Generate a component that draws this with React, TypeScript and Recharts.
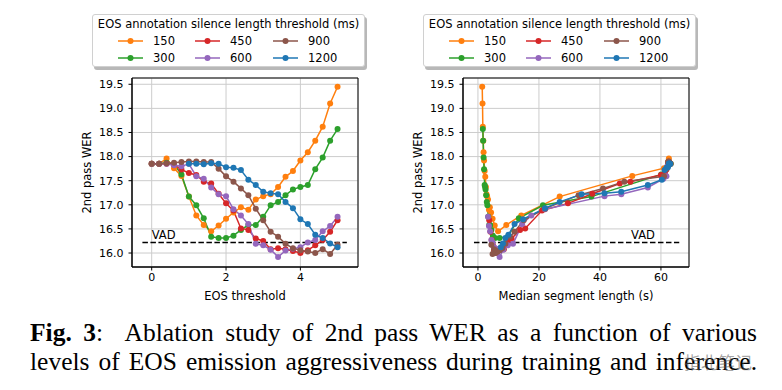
import React from 'react';
import {
  LineChart,
  Line,
  XAxis,
  YAxis,
  CartesianGrid,
  ReferenceLine,
  ReferenceDot,
  ReferenceArea,
  Label,
} from 'recharts';

// ---------------- data ----------------
const eosThresholds = [0, 0.2, 0.4, 0.6, 0.8, 1.0, 1.2, 1.4, 1.6, 1.8, 2.0, 2.2, 2.4, 2.6, 2.8, 3.0, 3.2, 3.4, 3.6, 3.8, 4.0, 4.2, 4.4, 4.6, 4.8, 5.0];

const seriesNames = ['150', '300', '450', '600', '900', '1200'];
const seriesColors = ['#ff7f0e', '#2ca02c', '#d62728', '#9467bd', '#8c564b', '#1f77b4'];

const wer150 = [17.85, 17.85, 17.96, 17.76, 17.6, 17.17, 16.78, 16.58, 16.45, 16.57, 16.71, 16.84, 16.95, 16.9, 17.11, 17.18, 17.22, 17.37, 17.58, 17.7, 17.92, 18.09, 18.33, 18.62, 19.1, 19.45];
const wer300 = [17.85, 17.85, 17.87, 17.84, 17.63, 17.17, 16.99, 16.72, 16.34, 16.31, 16.31, 16.36, 16.48, 16.58, 16.58, 16.75, 16.99, 17.06, 17.2, 17.32, 17.37, 17.41, 17.74, 17.98, 18.33, 18.57];
const wer450 = [17.85, 17.85, 17.85, 17.83, 17.73, 17.66, 17.62, 17.48, 17.44, 17.23, 17.03, 16.88, 16.51, 16.48, 16.3, 16.25, 16.08, 16.1, 16.08, 16.04, 16.0, 16.06, 16.16, 16.27, 16.44, 16.68];
const wer600 = [17.85, 17.85, 17.85, 17.82, 17.8, 17.85, 17.59, 17.54, 17.36, 17.22, 17.18, 16.91, 16.78, 16.6, 16.19, 16.16, 16.07, 15.92, 16.05, 16.09, 16.12, 16.22, 16.27, 16.45, 16.56, 16.75];
const wer900 = [17.85, 17.85, 17.86, 17.87, 17.89, 17.9, 17.9, 17.89, 17.89, 17.75, 17.59, 17.48, 17.34, 17.2, 16.92, 16.68, 16.44, 16.34, 16.19, 16.1, 16.06, 16.03, 16.0, 16.08, 15.98, 16.17];
const wer1200 = [null, null, null, null, null, 17.85, 17.85, 17.84, 17.86, 17.85, 17.78, 17.77, 17.72, 17.52, 17.41, 17.27, 17.24, 17.22, 17.06, 16.93, 16.7, 16.6, 16.38, 16.31, 16.2, 16.12];

const seg150 = [63.0, 62.8, 62.6, 61.0, 50.6, 26.8, 14.2, 9.3, 6.6, 5.5, 4.8, 4.3, 3.9, 3.6, 3.3, 3.0, 2.8, 2.6, 2.4, 2.2, 2.0, 1.85, 1.75, 1.6, 1.5, 1.4];
const seg300 = [63.2, 63.0, 62.8, 62.4, 60.1, 37.2, 21.3, 13.4, 9.8, 7.1, 5.6, 4.9, 4.4, 4.0, 3.7, 3.4, 3.1, 2.9, 2.7, 2.5, 2.35, 2.2, 2.0, 1.85, 1.7, 1.6];
const seg450 = [63.0, 62.8, 62.6, 62.3, 61.8, 61.2, 60.0, 50.0, 46.5, 37.5, 29.5, 21.0, 15.5, 13.8, 11.0, 9.8, 8.5, 7.6, 6.9, 6.3, 5.8, 5.3, 4.9, 4.5, 4.1, 3.7];
const seg600 = [63.0, 62.8, 62.6, 62.4, 62.1, 62.7, 61.8, 60.8, 55.7, 47.0, 41.5, 22.0, 17.5, 14.5, 11.5, 9.8, 8.3, 7.1, 6.5, 5.9, 5.3, 4.8, 4.4, 4.0, 3.6, 3.3];
const seg900 = [63.2, 63.0, 62.9, 62.8, 62.7, 62.6, 62.5, 62.4, 62.3, 61.8, 61.0, 48.0, 41.0, 33.0, 22.0, 15.0, 12.0, 10.5, 9.0, 8.0, 7.2, 6.5, 5.8, 5.3, 4.8, 4.4];
const seg1200 = [null, null, null, null, null, 63.0, 62.9, 62.8, 62.7, 62.6, 62.3, 61.8, 61.2, 60.3, 55.7, 47.0, 41.5, 34.0, 26.8, 22.0, 14.8, 12.0, 10.0, 9.0, 8.2, 7.5];

const werSeries = [wer150, wer300, wer450, wer600, wer900, wer1200];
const segSeries = [seg150, seg300, seg450, seg600, seg900, seg1200];

const vadWer = 16.22;
const werTicks = [16.0, 16.5, 17.0, 17.5, 18.0, 18.5, 19.0, 19.5];
const eosTicks = [0, 2, 4];
const segTicks = [0, 20, 40, 60];

const legendTitle = 'EOS annotation silence length threshold (ms)';
const leftXLabel = 'EOS threshold';
const rightXLabel = 'Median segment length (s)';
const yLabel = '2nd pass WER';
const vadLabel = 'VAD';
const captionBold = 'Fig. 3';
const captionLine1 = ':  Ablation study of 2nd pass WER as a function of various';
const captionLine2 = 'levels of EOS emission aggressiveness during training and inference.';
const watermark = '指北笔记';

// ---------------- helpers ----------------
const FONT = "'DejaVu Sans', sans-serif";
const werDomain: [number, number] = [15.71, 19.63];
const eosDomain: [number, number] = [-0.53, 5.55];
const segDomain: [number, number] = [-4.9, 69.2];

const leftData = werSeries.map((w) =>
  eosThresholds.map((t, i) => ({ x: t, y: w[i] })).filter((d) => d.y != null)
);
const rightData = werSeries.map((w, s) =>
  segSeries[s].map((x, i) => ({ x, y: w[i] })).filter((d) => d.y != null && d.x != null)
);

const tickStyle = { fill: '#000', fontSize: 11, fontFamily: FONT };
const labelStyle = { fill: '#000', fontSize: 11.5, fontFamily: FONT };

function Panel({
  data,
  xDomain,
  xTicks,
  xLabel,
  vadSeg,
  vadLabelX,
  marginLeft,
  marginRight,
  width,
}: any) {
  return (
    <LineChart
      width={width}
      height={310}
      margin={{ top: 78, right: marginRight, bottom: 10, left: marginLeft }}
    >
      <CartesianGrid stroke="#cccccc" strokeWidth={1} />
      <XAxis
        type="number"
        dataKey="x"
        domain={xDomain}
        ticks={xTicks}
        allowDataOverflow
        height={33}
        tickSize={3.5}
        tickMargin={3}
        axisLine={{ stroke: '#000' }}
        tickLine={{ stroke: '#000' }}
        tick={tickStyle}
        interval={0}
      >
        <Label value={xLabel} position="insideBottom" offset={0} style={labelStyle} />
      </XAxis>
      <YAxis
        type="number"
        dataKey="y"
        domain={werDomain}
        ticks={werTicks}
        allowDataOverflow
        width={60}
        tickSize={3.5}
        tickMargin={5}
        axisLine={{ stroke: '#000' }}
        tickLine={{ stroke: '#000' }}
        tick={tickStyle}
        interval={0}
        tickFormatter={(v: number) => v.toFixed(1)}
      >
        <Label
          value={yLabel}
          angle={-90}
          position="insideLeft"
          offset={15}
          style={{ ...labelStyle, textAnchor: 'middle' }}
        />
      </YAxis>
      <ReferenceArea
        x1={xDomain[0]}
        x2={xDomain[1]}
        y1={werDomain[0]}
        y2={werDomain[1]}
        fill="none"
        fillOpacity={0}
        stroke="#000"
        strokeWidth={1}
        ifOverflow="visible"
      />
      <ReferenceLine
        segment={[
          { x: vadSeg[0], y: vadWer },
          { x: vadSeg[1], y: vadWer },
        ]}
        stroke="#000"
        strokeWidth={1.5}
        strokeDasharray="5.5 2.5"
        ifOverflow="visible"
      />
      <ReferenceDot
        x={vadLabelX}
        y={vadWer}
        r={0}
        fill="none"
        stroke="none"
        label={{ value: vadLabel, position: 'top', offset: 3.5, ...labelStyle }}
      />
      {data.map((d: any[], s: number) => (
        <Line
          key={seriesNames[s]}
          data={d}
          dataKey="y"
          type="linear"
          stroke={seriesColors[s]}
          strokeWidth={1.5}
          dot={{ r: 3, fill: seriesColors[s], stroke: seriesColors[s], strokeWidth: 0 }}
          activeDot={false}
          isAnimationActive={false}
        />
      ))}
    </LineChart>
  );
}

function LegendBox({ left }: { left: number }) {
  const cols = [26, 103, 181];
  const rows = [26, 43];
  return (
    <div
      style={{
        position: 'absolute',
        left,
        top: 14,
        width: 273,
        height: 53,
        boxSizing: 'border-box',
        border: '1px solid #d0d0d0',
        borderRadius: 3,
        background: '#fff',
        boxShadow: '2px 3px 0 rgba(0,0,0,0.28)',
        fontFamily: FONT,
        fontSize: 11.5,
        color: '#000',
      }}
    >
      <div
        style={{
          position: 'absolute',
          top: 3,
          left: 0,
          width: '100%',
          textAlign: 'center',
          lineHeight: '13px',
          whiteSpace: 'nowrap',
        }}
      >
        {legendTitle}
      </div>
      {seriesNames.map((name, i) => {
        const col = Math.floor(i / 2);
        const row = i % 2;
        const x = cols[col];
        const y = rows[row];
        return (
          <div key={name}>
            <svg
              style={{ position: 'absolute', left: x - 1, top: y - 6 }}
              width={26}
              height={12}
            >
              <line x1={0} y1={6} x2={25} y2={6} stroke={seriesColors[i]} strokeWidth={1.5} />
              <circle cx={12.5} cy={6} r={3} fill={seriesColors[i]} />
            </svg>
            <div
              style={{
                position: 'absolute',
                left: x + 34,
                top: y - 7,
                lineHeight: '14px',
                whiteSpace: 'nowrap',
              }}
            >
              {name}
            </div>
          </div>
        );
      })}
    </div>
  );
}

export default function App() {
  return (
    <div
      style={{
        position: 'fixed',
        left: 0,
        top: 0,
        width: 782,
        height: 390,
        background: '#fff',
        overflow: 'hidden',
      }}
    >
      <div style={{ position: 'absolute', left: 0, top: 0 }}>
        <Panel
          data={leftData}
          xDomain={eosDomain}
          xTicks={eosTicks}
          xLabel={leftXLabel}
          vadSeg={[-0.25, 5.25]}
          vadLabelX={0.32}
          marginLeft={72}
          marginRight={12}
          width={370}
        />
      </div>
      <div style={{ position: 'absolute', left: 390, top: 0 }}>
        <Panel
          data={rightData}
          xDomain={segDomain}
          xTicks={segTicks}
          xLabel={rightXLabel}
          vadSeg={[-1.3, 66]}
          vadLabelX={54.1}
          marginLeft={13}
          marginRight={11}
          width={310}
        />
      </div>
      <LegendBox left={92} />
      <LegendBox left={423} />
      <div
        style={{
          position: 'absolute',
          left: 30,
          top: 318,
          width: 727,
          fontFamily: "'Liberation Serif', serif",
          fontSize: 25.5,
          lineHeight: '29px',
          color: '#000',
        }}
      >
        <div style={{ textAlign: 'justify', textAlignLast: 'justify', whiteSpace: 'pre-wrap' }}>
          <b>{captionBold}</b>
          {captionLine1}
        </div>
        <div style={{ textAlign: 'justify', textAlignLast: 'justify' }}>{captionLine2}</div>
      </div>
      <div
        style={{
          position: 'absolute',
          left: 684,
          top: 349,
          fontFamily: "'Noto Sans CJK SC', sans-serif",
          fontSize: 17,
          color: 'rgba(90,90,90,0.55)',
          whiteSpace: 'nowrap',
        }}
      >
        {watermark}
      </div>
    </div>
  );
}
